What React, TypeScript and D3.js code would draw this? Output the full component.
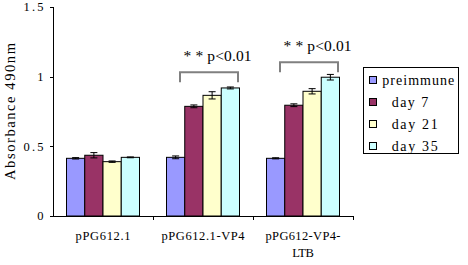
import React from "react";
import * as d3 from "d3";

const categories = ["pPG612.1", "pPG612.1-VP4", "pPG612-VP4-LTB"];
const categoryLines = [["pPG612.1"], ["pPG612.1-VP4"], ["pPG612-VP4-", "LTB"]];
const categoryLineWidths = [[55], [83], [75, 21.5]];
const seriesNames = ["preimmune", "day 7", "day 21", "day 35"];
const legendWidths = [72, 36.5, 46, 46];
const seriesColors = ["#9999FF", "#993366", "#FFFFCC", "#CCFFFF"];
const preimmune = [0.414, 0.421, 0.414];
const day7 = [0.436, 0.787, 0.795];
const day21 = [0.39, 0.866, 0.895];
const day35 = [0.421, 0.919, 0.996];
const preimmuneErr = [0.005, 0.01, 0.004];
const day7Err = [0.019, 0.01, 0.01];
const day21Err = [0.005, 0.026, 0.019];
const day35Err = [0.003, 0.007, 0.02];
const yTicks = [0, 0.5, 1, 1.5];
const yTickLabels = ["0", "0.5", "1", "1.5"];
const bracketCats = ["pPG612.1-VP4", "pPG612-VP4-LTB"];
const bracketTop = [1.032, 1.103];
const bracketDrop = 0.072;
const bracketLabel = "* * p<0.01";

const values = [preimmune, day7, day21, day35];
const errors = [preimmuneErr, day7Err, day21Err, day35Err];

const W = 468;
const H = 265;
const left = 53;
const right = 353;
const top = 7;
const bottom = 216;

export default function App() {
  const x = d3.scaleBand<string>().domain(categories).range([left, right]).padding(0);
  const inner = d3
    .scaleBand<string>()
    .domain(seriesNames)
    .range([0, x.bandwidth()])
    .paddingInner(0)
    .paddingOuter(0.74);
  const y = d3.scaleLinear().domain([0, 1.5]).range([bottom, top]);
  const serif = "'Liberation Serif', 'Times New Roman', serif";

  return (
    <svg
      width={W}
      height={H}
      style={{ position: "absolute", left: 0, top: 0, background: "#fff" }}
    >
      <rect x={0} y={0} width={W} height={H} fill="#fff" />
      {/* bars */}
      {categories.map((c, ci) => (
        <g key={c}>
          {seriesNames.map((s, si) => {
            const v = values[si][ci];
            const e = errors[si][ci];
            const bx = (x(c) as number) + (inner(s) as number);
            const bw = inner.bandwidth();
            const cx = bx + bw / 2;
            return (
              <g key={s}>
                <rect
                  x={bx}
                  y={y(v)}
                  width={bw}
                  height={y(0) - y(v)}
                  fill={seriesColors[si]}
                  stroke="#000"
                  strokeWidth={1}
                />
                <line x1={cx} x2={cx} y1={y(v - e)} y2={y(v + e)} stroke="#000" strokeWidth={1} />
                <line x1={cx - 3.5} x2={cx + 3.5} y1={y(v + e)} y2={y(v + e)} stroke="#000" strokeWidth={1} />
                <line x1={cx - 3.5} x2={cx + 3.5} y1={y(v - e)} y2={y(v - e)} stroke="#000" strokeWidth={1} />
              </g>
            );
          })}
        </g>
      ))}
      {/* axes */}
      <line x1={left + 0.5} x2={left + 0.5} y1={top} y2={bottom} stroke="#000" strokeWidth={1} />
      <line x1={left} x2={right + 0.5} y1={bottom + 0.5} y2={bottom + 0.5} stroke="#000" strokeWidth={1} />
      {yTicks.map((t, i) => (
        <g key={t}>
          <line x1={left - 3} x2={left + 0.5} y1={Math.round(y(t)) + 0.5} y2={Math.round(y(t)) + 0.5} stroke="#000" />
          <text
            x={43.5}
            y={y(t)}
            dy="0.35em"
            textAnchor="end"
            fontFamily={serif}
            fontSize={12.5}
            fill="#000"
            textLength={yTickLabels[i].length > 1 ? 20 : undefined}
            lengthAdjust="spacing"
          >
            {yTickLabels[i]}
          </text>
        </g>
      ))}
      {categories.map((c) => (
        <line
          key={"t" + c}
          x1={Math.round((x(c) as number) + x.bandwidth()) + 0.5}
          x2={Math.round((x(c) as number) + x.bandwidth()) + 0.5}
          y1={bottom}
          y2={bottom + 4}
          stroke="#000"
        />
      ))}
      {categories.map((c, ci) =>
        categoryLines[ci].map((ln, li) => (
          <text
            key={"l" + c + li}
            x={(x(c) as number) + x.bandwidth() / 2}
            y={240 + li * 17}
            textAnchor="middle"
            fontFamily={serif}
            fontSize={12.5}
            fill="#000"
            textLength={categoryLineWidths[ci][li]}
            lengthAdjust="spacing"
          >
            {ln}
          </text>
        ))
      )}
      <text
        transform={`translate(15,${(43 + 180) / 2}) rotate(-90)`}
        textAnchor="middle"
        fontFamily={serif}
        fontSize={14.5}
        fill="#000"
        textLength={137}
        lengthAdjust="spacing"
      >
        Absorbance 490nm
      </text>
      {/* significance brackets */}
      {bracketCats.map((c, bi) => {
        const gx = (x(c) as number) + (inner(seriesNames[0]) as number);
        const gEnd = (x(c) as number) + (inner(seriesNames[seriesNames.length - 1]) as number) + inner.bandwidth();
        const x0 = gx + inner.step() * 0.74;
        const x1 = gEnd - 1.5;
        const yt = y(bracketTop[bi]);
        const yb = y(bracketTop[bi] - bracketDrop);
        return (
          <g key={"b" + c}>
            <path
              d={`M${x0},${yb}V${yt}H${x1}V${yb}`}
              fill="none"
              stroke="#808080"
              strokeWidth={2}
            />
            <text
              x={x0 + 3.5}
              y={yt - 11.5}
              fontFamily={serif}
              fontSize={15.5}
              fill="#000"
              style={{ whiteSpace: "pre" }}
              textLength={68}
              lengthAdjust="spacing"
            >
              {bracketLabel}
            </text>
          </g>
        );
      })}
      {/* legend */}
      <rect x={363.5} y={67.5} width={95} height={86} fill="#fff" stroke="#000" strokeWidth={1} />
      {seriesNames.map((s, si) => (
        <g key={"lg" + s} transform={`translate(0,${80 + si * 22})`}>
          <rect x={369.5} y={-3.5} width={7} height={7} fill={seriesColors[si]} stroke="#000" />
          <text
            x={si === 0 ? 382.3 : 391.7}
            y={0}
            dy="0.35em"
            fontFamily={serif}
            fontSize={14}
            fill="#000"
            style={{ whiteSpace: "pre" }}
            textLength={legendWidths[si]}
            lengthAdjust="spacing"
          >
            {s}
          </text>
        </g>
      ))}
    </svg>
  );
}
